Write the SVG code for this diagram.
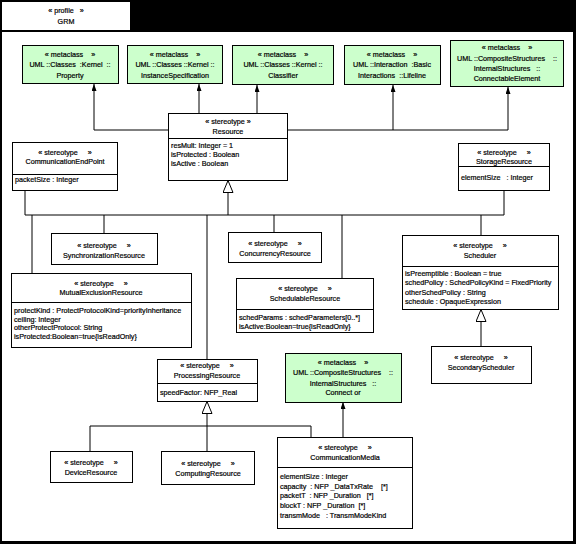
<svg xmlns="http://www.w3.org/2000/svg" width="576" height="544" viewBox="0 0 576 544">
<style>
.box{fill:#ffffff;stroke:#000;stroke-width:1}
.meta{fill:#ccffcc;stroke:#000;stroke-width:1}
.ln{fill:none;stroke:#000;stroke-width:1}
text{font-family:"Liberation Sans",Arial,sans-serif;font-size:7.2px;fill:#000;stroke:#000;stroke-width:0.2;white-space:pre}
.c{text-anchor:middle}
</style>
<defs>
<marker id="arr" viewBox="0 0 7 5" refX="7" refY="2.5" markerWidth="7" markerHeight="5" markerUnits="userSpaceOnUse" orient="auto"><path d="M0,0 L7,2.5 L0,5 z" fill="#000"/></marker>
<marker id="gen" viewBox="0 0 13 11" refX="13" refY="5.5" markerWidth="13" markerHeight="11" markerUnits="userSpaceOnUse" orient="auto"><path d="M0.5,0.5 L12.5,5.5 L0.5,10.5 z" fill="#fff" stroke="#000" stroke-width="1"/></marker>
</defs>
<rect x="0" y="0" width="576" height="544" fill="#000"/>
<rect x="2" y="32" width="571" height="509" fill="#fff"/>
<g id="tab">
<rect x="2" y="2" width="128" height="28" fill="#fff"/>
<text class="c" x="66" y="13">« profile   »</text>
<text class="c" x="66" y="24">GRM</text>
</g>
<g id="connectors">
<path class="ln" d="M168,130 H94 V84" marker-end="url(#arr)"/>
<path class="ln" d="M199,113 V84" marker-end="url(#arr)"/>
<path class="ln" d="M257,113 V85" marker-end="url(#arr)"/>
<path class="ln" d="M287,130 H393 V85" marker-end="url(#arr)"/>
<path class="ln" d="M393,130 H508 V87" marker-end="url(#arr)"/>
<path class="ln" d="M25,190 V215 H504 V190"/>
<path class="ln" d="M32,215 V273 M104,215 V233 M207,215 V359 M274,215 V232 M342,215 V278 M481,215 V235"/>
<path class="ln" d="M228,215 V180" marker-end="url(#gen)"/>
<path class="ln" d="M481,346 V309" marker-end="url(#gen)"/>
<path class="ln" d="M207,426 V401" marker-end="url(#gen)"/>
<path class="ln" d="M90,451 V426 H311 V437 M207,426 V451"/>
<path class="ln" d="M343,437 V402" marker-end="url(#arr)"/>
</g>
<g id="Property">
<rect class="meta" x="22.5" y="45.5" width="96" height="38"/>
<text class="c" x="70" y="57">« metaclass    »</text>
<text class="c" x="70" y="67">UML ::Classes  :Kernel  ::</text>
<text class="c" x="70" y="78">Property</text>
</g>
<g id="InstanceSpecification">
<rect class="meta" x="127.5" y="45.5" width="95" height="38"/>
<text class="c" x="175" y="57">« metaclass    »</text>
<text class="c" x="175" y="67">UML ::Classes ::Kernel ::</text>
<text class="c" x="175" y="78">InstanceSpecification</text>
</g>
<g id="Classifier">
<rect class="meta" x="232.5" y="45.5" width="101" height="39"/>
<text class="c" x="283" y="57">« metaclass    »</text>
<text class="c" x="283" y="67">UML ::Classes ::Kernel ::</text>
<text class="c" x="283" y="78">Classifier</text>
</g>
<g id="Lifeline">
<rect class="meta" x="344.5" y="45.5" width="96" height="39"/>
<text class="c" x="392" y="57">« metaclass    »</text>
<text class="c" x="392" y="67">UML ::Interaction  :Basic</text>
<text class="c" x="392" y="78">Interactions  ::Lifeline</text>
</g>
<g id="ConnectableElement">
<rect class="meta" x="450.5" y="40.5" width="113" height="46"/>
<text class="c" x="507" y="50">« metaclass    »</text>
<text class="c" x="507" y="61">UML ::CompositeStructures    ::</text>
<text class="c" x="507" y="71">InternalStructures   ::</text>
<text class="c" x="507" y="81">ConnectableElement</text>
</g>
<g id="Resource">
<rect class="box" x="168.5" y="113.5" width="119" height="67"/>
<line class="ln" x1="168" y1="138.5" x2="288" y2="138.5"/>
<text class="c" x="228" y="124">« stereotype »</text>
<text class="c" x="228" y="134">Resource</text>
<text x="171" y="148">resMult: Integer = 1</text>
<text x="171" y="157">isProtected : Boolean</text>
<text x="171" y="166">isActive : Boolean</text>
</g>
<g id="CommunicationEndPoint">
<rect class="box" x="12.5" y="142.5" width="105" height="48"/>
<line class="ln" x1="12" y1="174.5" x2="118" y2="174.5"/>
<text class="c" x="65" y="155">« stereotype     »</text>
<text class="c" x="65" y="164">CommunicationEndPoint</text>
<text x="15" y="182">packetSize : Integer</text>
</g>
<g id="StorageResource">
<rect class="box" x="458.5" y="143.5" width="91" height="47"/>
<line class="ln" x1="458" y1="166.5" x2="550" y2="166.5"/>
<text class="c" x="504" y="155">« stereotype     »</text>
<text class="c" x="504" y="164">StorageResource</text>
<text x="461" y="180">elementSize   : Integer</text>
</g>
<g id="SynchronizationResource">
<rect class="box" x="51.5" y="233.5" width="106" height="31"/>
<text class="c" x="104" y="248">« stereotype     »</text>
<text class="c" x="104" y="258">SynchronizationResource</text>
</g>
<g id="ConcurrencyResource">
<rect class="box" x="228.5" y="232.5" width="93" height="30"/>
<text class="c" x="275" y="246">« stereotype     »</text>
<text class="c" x="275" y="256">ConcurrencyResource</text>
</g>
<g id="Scheduler">
<rect class="box" x="402.5" y="235.5" width="156" height="74"/>
<line class="ln" x1="402" y1="266.5" x2="559" y2="266.5"/>
<text class="c" x="480" y="248">« stereotype     »</text>
<text class="c" x="480" y="258">Scheduler</text>
<text x="405" y="276">isPreemptible : Boolean = true</text>
<text x="405" y="285">schedPolicy : SchedPolicyKind = FixedPriority</text>
<text x="405" y="295">otherSchedPolicy : String</text>
<text x="405" y="304">schedule : OpaqueExpression</text>
</g>
<g id="MutualExclusionResource">
<rect class="box" x="11.5" y="273.5" width="180" height="74"/>
<line class="ln" x1="11" y1="302.5" x2="192" y2="302.5"/>
<text class="c" x="101" y="286">« stereotype     »</text>
<text class="c" x="101" y="295">MutualExclusionResource</text>
<text x="14" y="313">protectKind : ProtectProtocolKind=priorityInheritance</text>
<text x="14" y="321.5">ceiling: Integer</text>
<text x="14" y="330">otherProtectProtocol: String</text>
<text x="14" y="338.5">isProtected:Boolean=true{isReadOnly}</text>
</g>
<g id="SchedulableResource">
<rect class="box" x="236.5" y="278.5" width="137" height="54"/>
<line class="ln" x1="236" y1="309.5" x2="374" y2="309.5"/>
<text class="c" x="305" y="291">« stereotype     »</text>
<text class="c" x="305" y="301">SchedulableResource</text>
<text x="239" y="320">schedParams : schedParameters[0..*]</text>
<text x="239" y="329">isActive:Boolean=true{isReadOnly}</text>
</g>
<g id="ProcessingResource">
<rect class="box" x="157.5" y="359.5" width="100" height="42"/>
<line class="ln" x1="157" y1="383.5" x2="258" y2="383.5"/>
<text class="c" x="207" y="368">« stereotype     »</text>
<text class="c" x="207" y="378">ProcessingResource</text>
<text x="160" y="395">speedFactor: NFP_Real</text>
</g>
<g id="Connector">
<rect class="meta" x="285.5" y="353.5" width="116" height="49"/>
<text class="c" x="343" y="365">« metaclass    »</text>
<text class="c" x="343" y="375">UML ::CompositeStructures    ::</text>
<text class="c" x="343" y="386">InternalStructures   ::</text>
<text class="c" x="343" y="395">Connect or</text>
</g>
<g id="SecondaryScheduler">
<rect class="box" x="431.5" y="346.5" width="100" height="37"/>
<text class="c" x="481" y="360">« stereotype     »</text>
<text class="c" x="481" y="370">SecondaryScheduler</text>
</g>
<g id="DeviceResource">
<rect class="box" x="50.5" y="451.5" width="82" height="31"/>
<text class="c" x="91" y="465">« stereotype     »</text>
<text class="c" x="91" y="475">DeviceResource</text>
</g>
<g id="ComputingResource">
<rect class="box" x="161.5" y="451.5" width="93" height="33"/>
<text class="c" x="208" y="466">« stereotype     »</text>
<text class="c" x="208" y="476">ComputingResource</text>
</g>
<g id="CommunicationMedia">
<rect class="box" x="277.5" y="437.5" width="135" height="91"/>
<line class="ln" x1="277" y1="467.5" x2="413" y2="467.5"/>
<text class="c" x="345" y="450">« stereotype     »</text>
<text class="c" x="345" y="460">CommunicationMedia</text>
<text x="280" y="479">elementSize : Integer</text>
<text x="280" y="488.5">capacity  : NFP _DataTxRate    [*]</text>
<text x="280" y="498">packetT  : NFP _Duration   [*]</text>
<text x="280" y="508">blockT : NFP _Duration  [*]</text>
<text x="280" y="518">transmMode   : TransmModeKind</text>
</g>
</svg>
